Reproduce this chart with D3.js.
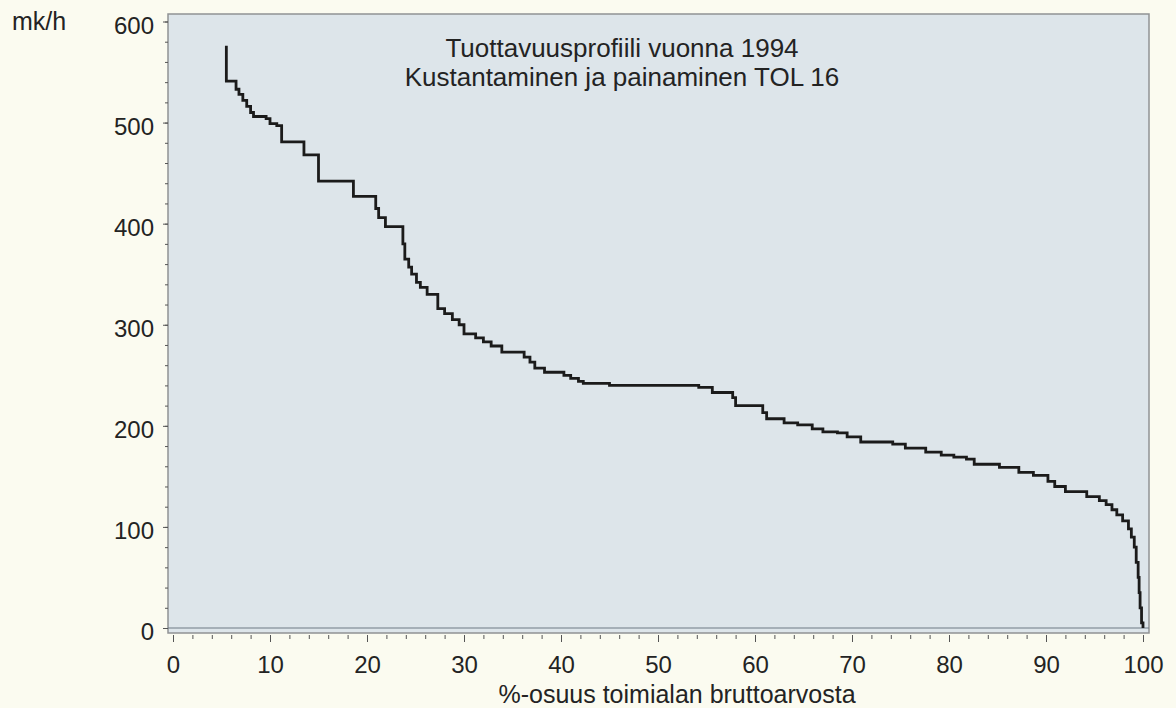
<!DOCTYPE html>
<html>
<head>
<meta charset="utf-8">
<script src="https://cdnjs.cloudflare.com/ajax/libs/d3/7.8.5/d3.min.js"></script>
<style>
  body { margin: 0; background: #fbfbf0; }
  svg text { font-family: "Liberation Sans", Arial, sans-serif; fill: #232323; }
  .axis path { display: none; }
  .axis line { stroke: #555; }
</style>
</head>
<body>
<div id="chart"></div>
<script>
// Productivity profile, step curve
var shareX = [5.5, 5.5, 6.5, 6.8, 7.2, 7.6, 8.0, 8.3, 9.6, 10.0, 10.7, 11.2, 13.5, 15.0, 18.6, 20.9, 21.2, 21.9, 23.7, 23.9,
    24.3, 24.6, 25.1, 25.5, 26.2, 27.3, 28.0, 28.8, 29.5, 30.0, 31.2, 32.0, 32.8, 33.9, 36.2, 36.8, 37.3, 38.3, 40.3, 41.0,
    41.8, 42.3, 45.0, 54.2, 55.6, 57.7, 58.0, 60.8, 61.2, 63.0, 64.4, 65.9, 67.0, 68.5, 69.5, 70.9, 74.2, 75.5, 77.6, 79.2,
    80.5, 81.8, 82.6, 85.2, 87.2, 88.7, 90.2, 90.9, 92.0, 94.2, 95.5, 96.2, 96.8, 97.3, 97.9, 98.5, 98.8, 99.1, 99.3, 99.5,
    99.6, 99.7, 99.85, 100];
var productivity = [576, 541, 533, 528, 522, 516, 510, 506, 504, 499, 497, 481, 468, 442, 427, 415, 406, 397, 380, 365,
    357, 350, 342, 337, 330, 316, 311, 305, 300, 291, 287, 283, 279, 273, 268, 263, 257, 253, 250, 247,
    244, 242, 240, 238, 233, 228, 220, 213, 207, 203, 201, 197, 194, 193, 189, 184, 182, 178, 174, 171,
    169, 167, 162, 159, 154, 151, 145, 140, 135, 130, 126, 122, 117, 112, 106, 98, 90, 80, 65, 50,
    35, 20, 5, 0];

var xTicks = [0, 10, 20, 30, 40, 50, 60, 70, 80, 90, 100];
var yTicks = [0, 100, 200, 300, 400, 500, 600];

var titleLines = ["Tuottavuusprofiili vuonna 1994", "Kustantaminen ja painaminen TOL 16"];
var yUnit = "mk/h";
var xTitle = "%-osuus toimialan bruttoarvosta";

var W = 1176, H = 708;

// frame of the plot area
var frame = {left: 168, top: 14, right: 1149, bottom: 633};

var x_scale = d3.scaleLinear().domain([0, 100]).range([173, 1143]);
var y_scale = d3.scaleLinear().domain([0, 600]).range([628, 21.5]);

var svg = d3.select("#chart").append("svg")
    .attr("width", W)
    .attr("height", H);

svg.append("rect")
    .attr("x", frame.left).attr("y", frame.top)
    .attr("width", frame.right - frame.left)
    .attr("height", frame.bottom - frame.top)
    .attr("fill", "#dde5ea")
    .attr("stroke", "#909294")
    .attr("stroke-width", 1.5);

// zero line
svg.append("line")
    .attr("x1", frame.left).attr("x2", frame.right)
    .attr("y1", y_scale(0)).attr("y2", y_scale(0))
    .attr("stroke", "#6f7a84")
    .attr("stroke-width", 1.2);

// x axis, minor ticks every 2
svg.append("g")
    .attr("class", "axis")
    .attr("transform", "translate(0," + (frame.bottom + 2) + ")")
    .call(d3.axisBottom(x_scale).tickValues(d3.range(0, 101, 2)).tickSize(4).tickFormat(""));

svg.append("g")
    .attr("class", "axis")
    .attr("transform", "translate(0," + (frame.bottom + 2) + ")")
    .call(d3.axisBottom(x_scale).tickValues(xTicks).tickSize(7).tickFormat(d3.format("d")))
    .selectAll("text")
    .attr("font-size", 24)
    .attr("dy", 0)
    .attr("y", 38);

// y axis
svg.append("g")
    .attr("class", "axis")
    .attr("transform", "translate(" + frame.left + ",0)")
    .call(d3.axisLeft(y_scale).tickValues(d3.range(0, 601, 20)).tickSize(3).tickFormat(""));

svg.append("g")
    .attr("class", "axis")
    .attr("transform", "translate(" + frame.left + ",0)")
    .call(d3.axisLeft(y_scale).tickValues(yTicks).tickSize(5).tickPadding(9).tickFormat(d3.format("d")))
    .selectAll("text")
    .attr("font-size", 24)
    .attr("dy", "0.48em");

// the curve
var line = d3.line()
    .x(function(d) { return x_scale(d[0]); })
    .y(function(d) { return y_scale(d[1]); })
    .curve(d3.curveStepAfter);

svg.append("path")
    .datum(d3.zip(shareX, productivity))
    .attr("d", line)
    .attr("fill", "none")
    .attr("stroke", "#1b1b1b")
    .attr("stroke-width", 2.8);

// titles
svg.selectAll(".title")
    .data(titleLines)
    .enter().append("text")
    .attr("class", "title")
    .attr("x", 622)
    .attr("y", function(d, i) { return 57 + i * 29; })
    .attr("text-anchor", "middle")
    .attr("font-size", 26)
    .text(function(d) { return d; });

svg.append("text")
    .attr("x", 12).attr("y", 30)
    .attr("font-size", 25)
    .text(yUnit);

svg.append("text")
    .attr("x", 677).attr("y", 703)
    .attr("text-anchor", "middle")
    .attr("font-size", 25)
    .text(xTitle);
</script>
</body>
</html>
